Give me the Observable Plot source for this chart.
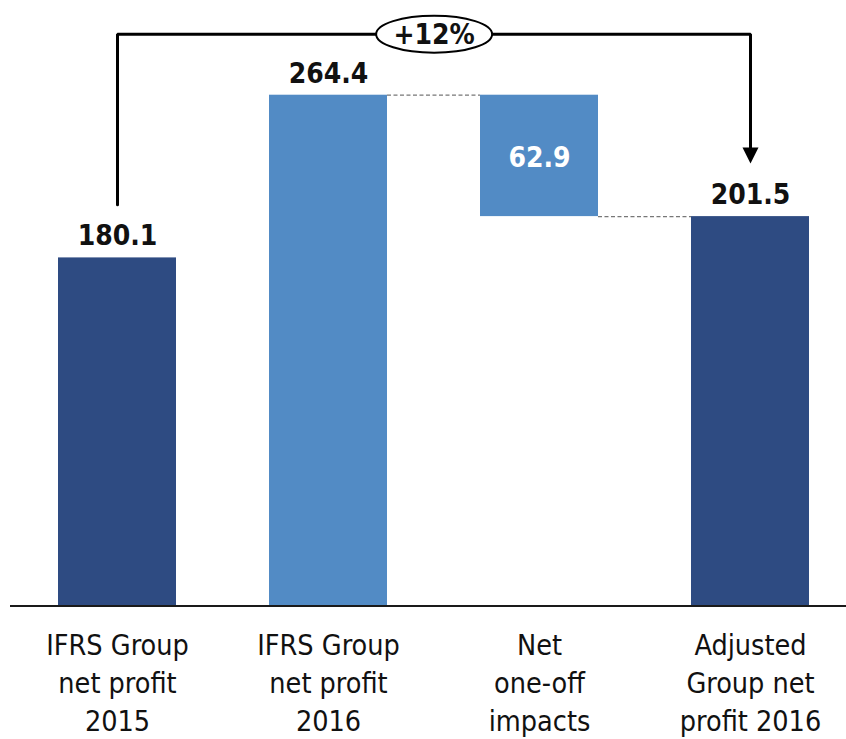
<!DOCTYPE html>
<html>
<head>
<meta charset="utf-8">
<script src="https://cdn.jsdelivr.net/npm/d3@7"></script>
<script src="https://cdn.jsdelivr.net/npm/@observablehq/plot@0.6"></script>
<style>
  html, body { margin: 0; padding: 0; background: #fff; }
  #chart svg { display: block; }
</style>
</head>
<body>
<div id="chart"></div>
<script>
// Net profit bridge, EUR m
const categories = [
  "IFRS Group\nnet profit\n2015",
  "IFRS Group\nnet profit\n2016",
  "Net\none-off\nimpacts",
  "Adjusted\nGroup net\nprofit 2016"
];
const values = [180.1, 264.4, -62.9, 201.5];
const kinds = ["total", "total", "change", "total"];
const growthLabel = "+12%";

// Build waterfall segments: totals start at zero, changes float from the running level
let running = 0;
const bars = categories.map((category, i) => {
  let y1, y2;
  if (kinds[i] === "total") {
    y1 = 0; y2 = values[i]; running = values[i];
  } else {
    const next = running + values[i];
    y1 = Math.min(running, next); y2 = Math.max(running, next); running = next;
  }
  return {category, value: values[i], kind: kinds[i], y1, y2, level: running, i};
});

// Dashed connectors link a change bar to its neighbours
const connectors = [];
for (let i = 0; i < bars.length - 1; i++) {
  if (bars[i].kind === "change" || bars[i + 1].kind === "change") {
    connectors.push({from: bars[i].category, to: bars[i + 1].category, y: bars[i].level});
  }
}

const dark = "#2e4b82";
const light = "#528bc5";
const fillFor = (d) => (d.i === 1 || d.kind === "change") ? light : dark;

// Layout
const width = 846, height = 739;
const marginLeft = 36, marginRight = 16, marginTop = 26, marginBottom = 134;
const paddingInner = 0.4415, paddingOuter = 0.1;
const step = (width - marginLeft - marginRight) / (categories.length - paddingInner + 2 * paddingOuter);
const bandwidth = step * (1 - paddingInner);

// Growth bracket from the first to the last bar
const first = bars[0], last = bars[bars.length - 1];
const bracketLevel = 296, bracketGap = 27.5;
const bracket = [
  {x: first.category, y: first.y2 + bracketGap},
  {x: first.category, y: bracketLevel},
  {x: last.category, y: bracketLevel},
  {x: last.category, y: last.y2 + bracketGap + 5}
];

const ellipseSymbol = {
  draw(ctx) {
    const rx = 58, ry = 18.5, k = 0.5523;
    ctx.moveTo(rx, 0);
    ctx.bezierCurveTo(rx, ry * k, rx * k, ry, 0, ry);
    ctx.bezierCurveTo(-rx * k, ry, -rx, ry * k, -rx, 0);
    ctx.bezierCurveTo(-rx, -ry * k, -rx * k, -ry, 0, -ry);
    ctx.bezierCurveTo(rx * k, -ry, rx, -ry * k, rx, 0);
    ctx.closePath();
  }
};
// Downward arrow head with its tip at the anchor point
const arrowHead = {
  draw(ctx) {
    ctx.moveTo(-8, -16);
    ctx.lineTo(8, -16);
    ctx.lineTo(0, 0);
    ctx.closePath();
  }
};

const font = "'DejaVu Sans Condensed', 'DejaVu Sans', sans-serif";

const chart = Plot.plot({
  width, height, marginLeft, marginRight, marginTop, marginBottom,
  style: {fontFamily: font, fontStretch: "condensed", background: "#fff"},
  x: {type: "band", domain: categories, paddingInner, paddingOuter, axis: null},
  y: {domain: [0, 300], axis: null},
  marks: [
    Plot.ruleY(connectors, {
      x1: "from", x2: "to", y: "y",
      stroke: "#777", strokeWidth: 1.3, strokeDasharray: "4,2.5",
      insetLeft: bandwidth, insetRight: bandwidth
    }),
    Plot.rectY(bars, {x: "category", y1: "y1", y2: "y2", fill: fillFor}),
    Plot.ruleY([0], {stroke: "#1a1a1a", strokeWidth: 2.2, insetLeft: -(marginLeft - 10), insetRight: -marginRight, dy: 0.5}),
    // value labels
    Plot.text(bars.filter(d => d.kind === "total"), {
      x: "category", y: "y2", text: d => d.value.toFixed(1),
      lineAnchor: "bottom", dy: -12.5,
      fontSize: 28, fontWeight: "bold", fill: "#111"
    }),
    Plot.text(bars.filter(d => d.kind === "change"), {
      x: "category", y: d => (d.y1 + d.y2) / 2, text: d => Math.abs(d.value).toFixed(1),
      lineAnchor: "middle", dy: 2,
      fontSize: 28, fontWeight: "bold", fill: "#fff"
    }),
    // category labels
    Plot.text(categories, {
      x: d => d, text: d => d, frameAnchor: "bottom",
      lineAnchor: "top", lineHeight: 1.34, dy: 22.5,
      fontSize: 28.5, fill: "#111"
    }),
    // growth bracket
    Plot.line(bracket, {x: "x", y: "y", stroke: "#000", strokeWidth: 3, strokeLinejoin: "miter", curve: "linear"}),
    Plot.dot([last], {x: "category", y: d => d.y2 + bracketGap, symbol: arrowHead, fill: "#000", stroke: null, r: 5}),
    Plot.dot([growthLabel], {
      x: () => categories[1], y: () => bracketLevel, dx: step / 2,
      symbol: ellipseSymbol, fill: "#fff", stroke: "#000", strokeWidth: 2, r: 5
    }),
    Plot.text([growthLabel], {
      x: () => categories[1], y: () => bracketLevel, dx: step / 2, dy: 1,
      text: d => d, fontSize: 28, fontWeight: "bold", fill: "#111"
    })
  ]
});

document.getElementById("chart").appendChild(chart);
</script>
</body>
</html>
